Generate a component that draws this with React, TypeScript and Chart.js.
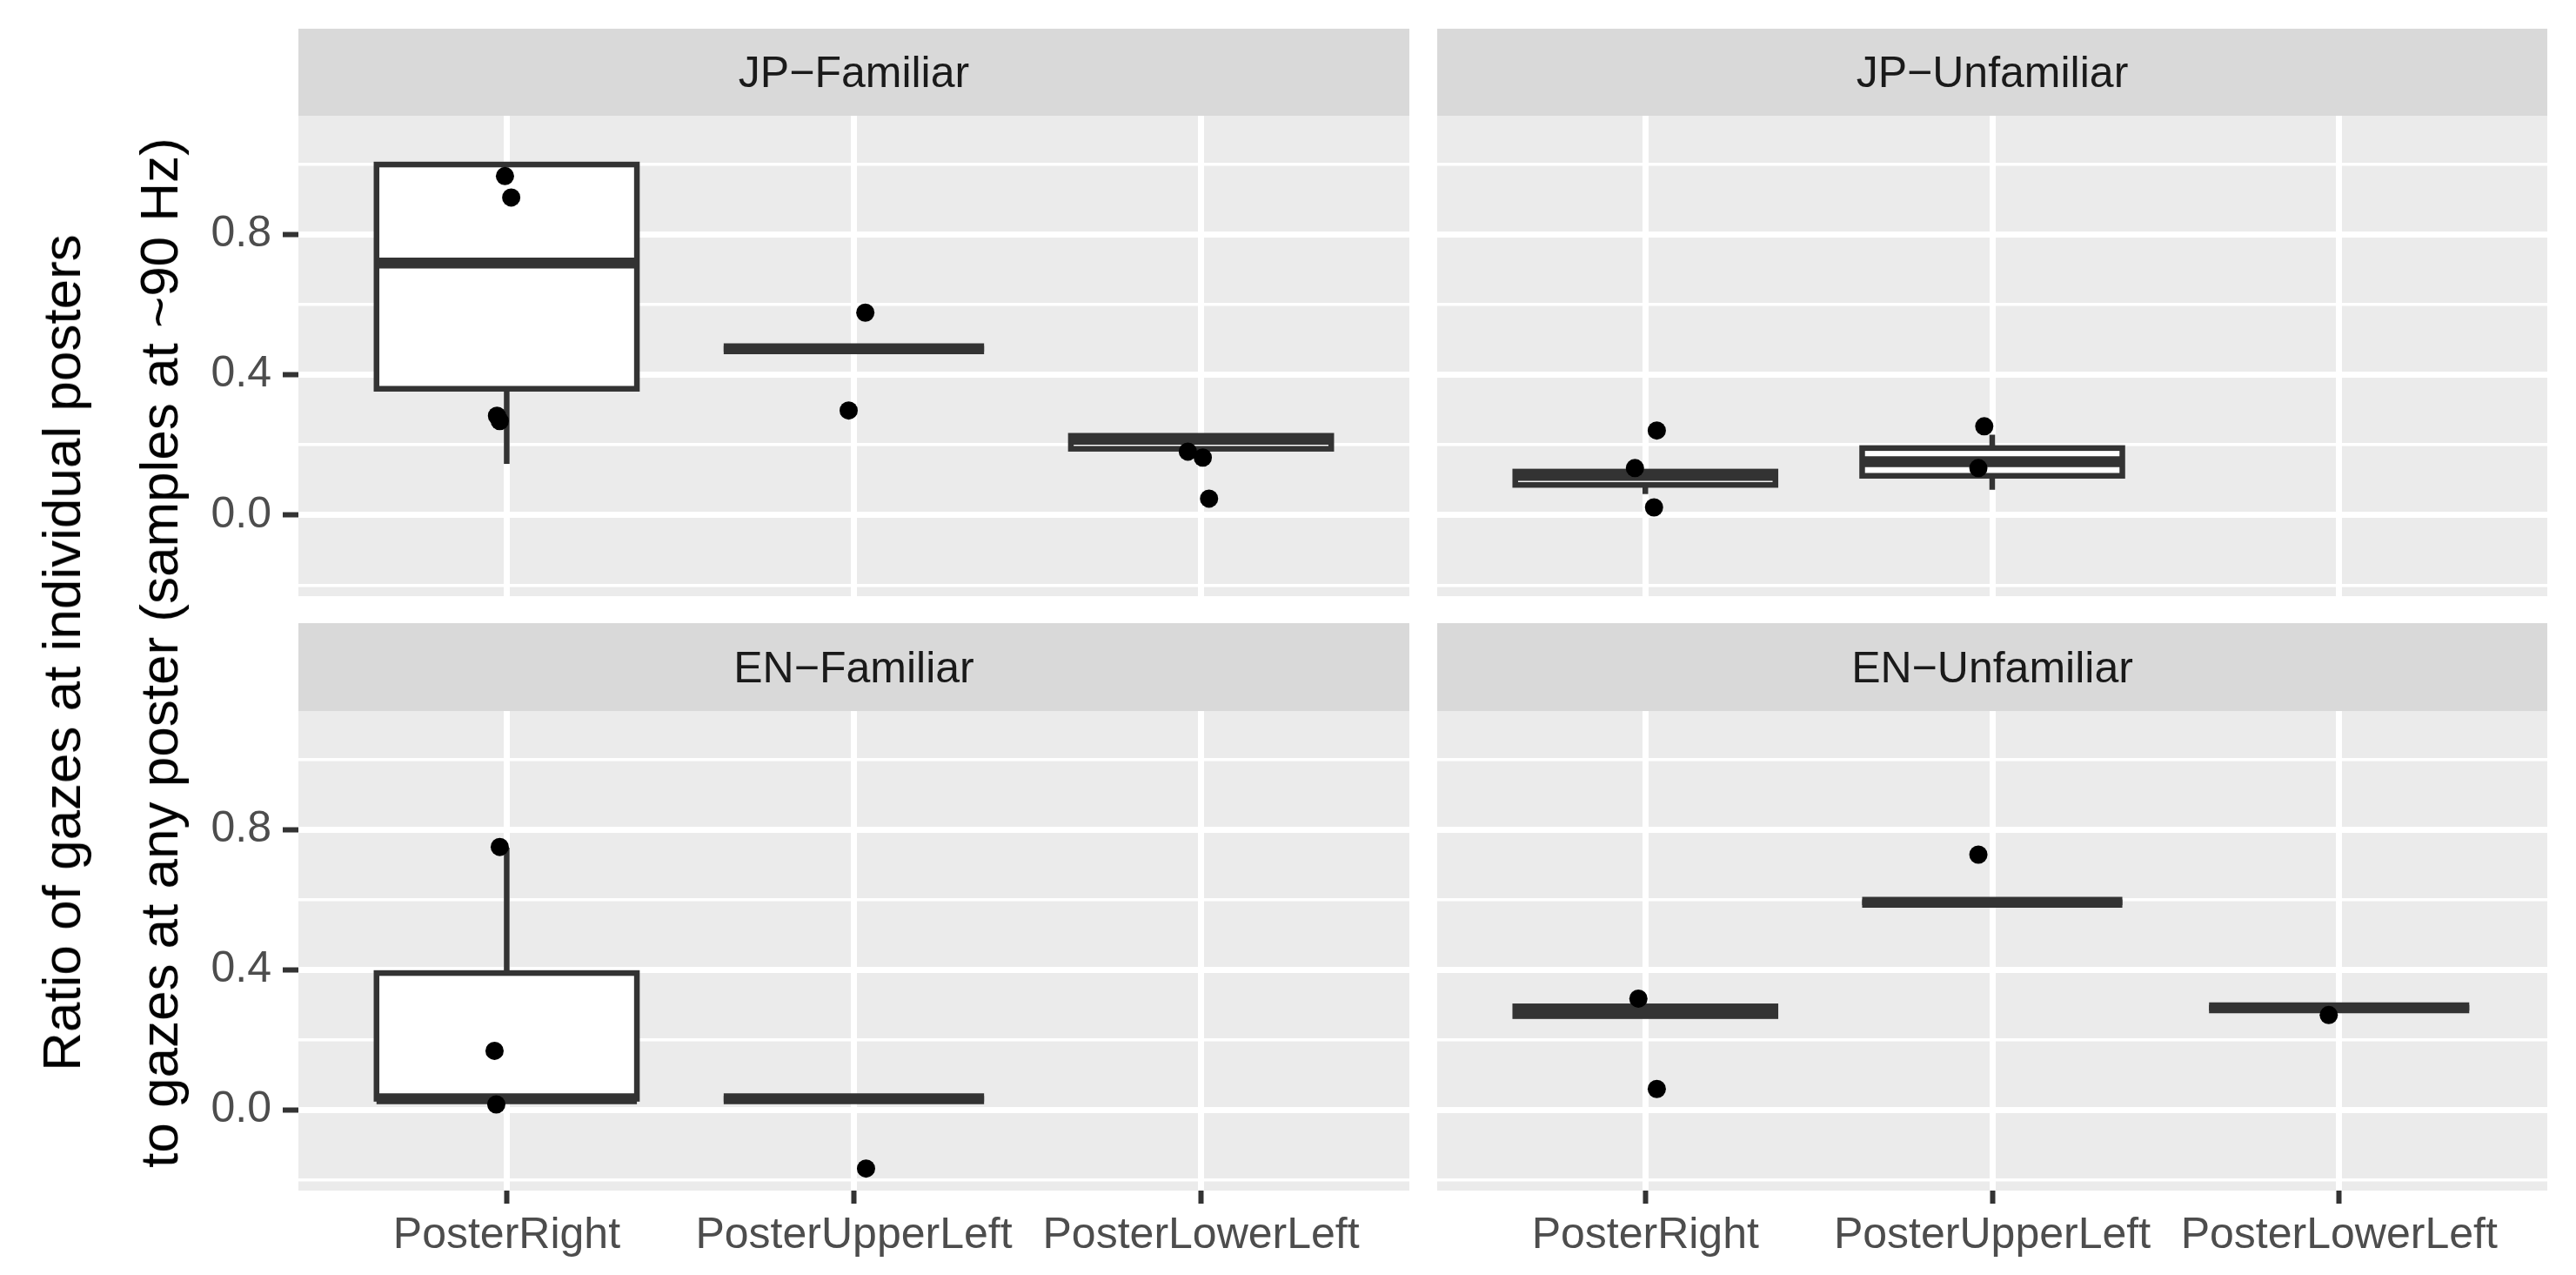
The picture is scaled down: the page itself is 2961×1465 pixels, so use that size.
import React, { useEffect, useRef } from 'react';
import Chart from 'chart.js/auto';

// ---------- data ----------
const categories = ['PosterRight', 'PosterUpperLeft', 'PosterLowerLeft'];
const panelTitles = ['JP\u2212Familiar', 'JP\u2212Unfamiliar', 'EN\u2212Familiar', 'EN\u2212Unfamiliar'];
const yMajorTicks = [0, 0.4, 0.8];
const yMinorTicks = [-0.2, 0.2, 0.6, 1.0];
const xTicks = [0, 1, 2];
const Y_MIN = -0.231;
const Y_MAX = 1.138;
const yTitleLines = ['Ratio of gazes at individual posters', 'to gazes at any poster (samples at ~90 Hz)'];

// box stats per category: [lowerWhisker, q1, median, q3, upperWhisker]
const jpFamiliarBoxes = [
  [0.146, 0.36, 0.718, 0.999, 0.999],
  [0.474, 0.474, 0.474, 0.474, 0.474],
  [0.189, 0.189, 0.216, 0.226, 0.226],
];
const jpUnfamiliarBoxes = [
  [0.06, 0.086, 0.113, 0.124, 0.124],
  [0.072, 0.112, 0.152, 0.191, 0.229],
  null,
];
const enFamiliarBoxes = [
  [0.031, 0.031, 0.031, 0.39, 0.748],
  [0.031, 0.031, 0.031, 0.031, 0.031],
  null,
];
const enUnfamiliarBoxes = [
  [0.267, 0.267, 0.28, 0.295, 0.295],
  [0.592, 0.592, 0.592, 0.592, 0.592],
  [0.291, 0.291, 0.291, 0.291, 0.291],
];

// jittered points: [category index, jitter offset, value]
const jpFamiliarPoints = [
  [0, -0.005, 0.966], [0, 0.013, 0.905], [0, -0.028, 0.283], [0, -0.02, 0.268],
  [1, 0.033, 0.577], [1, -0.015, 0.298],
  [2, -0.038, 0.181], [2, 0.005, 0.164], [2, 0.023, 0.047],
];
const jpUnfamiliarPoints = [
  [0, 0.033, 0.241], [0, -0.03, 0.134], [0, 0.025, 0.022],
  [1, -0.023, 0.253], [1, -0.04, 0.134],
];
const enFamiliarPoints = [
  [0, -0.02, 0.75], [0, -0.035, 0.168], [0, -0.03, 0.015],
  [1, 0.035, -0.168],
];
const enUnfamiliarPoints = [
  [0, -0.02, 0.317], [0, 0.033, 0.059],
  [1, -0.04, 0.728],
  [2, -0.03, 0.27],
];

const BOX_WIDTH = 0.75;
const FONT = "'Liberation Sans', Arial, Helvetica, sans-serif";

// ---------- layout ----------
const LEFT_AXIS_W = 343;
const COLS = [
  { left: 0, width: 1620, axis: true },
  { left: 1652, width: 1276, axis: false },
];
const ROWS = [
  { stripTop: 33, top: 133, height: 552, xAxis: false },
  { stripTop: 716, top: 817, height: 648, xAxis: true },
];
const X_AXIS_H = 97;

function isMajor(v: number) {
  return yMajorTicks.some((m) => Math.abs(m - v) < 1e-6);
}

function zeroPadding(s: any) {
  s.paddingTop = 0;
  s.paddingBottom = 0;
  s.paddingLeft = 0;
  s.paddingRight = 0;
}

function makeBoxPlugin(boxes: (number[] | null)[]) {
  return {
    id: 'boxes',
    beforeDatasetsDraw(chart: any) {
      const { ctx } = chart;
      const xs = chart.scales.x;
      const ys = chart.scales.y;
      ctx.save();
      ctx.strokeStyle = '#333333';
      ctx.lineCap = 'butt';
      ctx.lineJoin = 'miter';
      boxes.forEach((b, i) => {
        if (!b) return;
        const [lo, q1, med, q3, hi] = b;
        const cx = xs.getPixelForValue(i);
        const xl = xs.getPixelForValue(i - BOX_WIDTH / 2);
        const xr = xs.getPixelForValue(i + BOX_WIDTH / 2);
        const yq1 = ys.getPixelForValue(q1);
        const yq3 = ys.getPixelForValue(q3);
        ctx.lineWidth = 6.5;
        ctx.beginPath();
        ctx.moveTo(cx, yq3);
        ctx.lineTo(cx, ys.getPixelForValue(hi));
        ctx.moveTo(cx, yq1);
        ctx.lineTo(cx, ys.getPixelForValue(lo));
        ctx.stroke();
        ctx.fillStyle = '#FFFFFF';
        ctx.fillRect(xl, yq3, xr - xl, yq1 - yq3);
        ctx.strokeRect(xl, yq3, xr - xl, yq1 - yq3);
        ctx.lineWidth = 12.5;
        ctx.beginPath();
        const ym = ys.getPixelForValue(med);
        ctx.moveTo(xl, ym);
        ctx.lineTo(xr, ym);
        ctx.stroke();
      });
      ctx.restore();
    },
  };
}

const bgPlugin = {
  id: 'panelBg',
  beforeDraw(chart: any) {
    const { ctx, chartArea } = chart;
    ctx.save();
    ctx.fillStyle = '#EBEBEB';
    ctx.fillRect(chartArea.left, chartArea.top, chartArea.right - chartArea.left, chartArea.bottom - chartArea.top);
    ctx.restore();
  },
};

function Panel({ boxes, points, col, row }: any) {
  const ref = useRef<HTMLCanvasElement>(null);
  useEffect(() => {
    if (!ref.current) return;
    const yTicks = [...yMajorTicks, ...yMinorTicks].sort((a, b) => a - b);
    const chart = new Chart(ref.current, {
      type: 'scatter',
      data: {
        datasets: [
          {
            data: points.map((p: number[]) => ({ x: p[0] + p[1], y: p[2] })),
            pointRadius: 10.5,
            pointHoverRadius: 10.5,
            backgroundColor: '#000000',
            borderWidth: 0,
            clip: false,
          },
        ],
      },
      options: {
        animation: false,
        responsive: false,
        maintainAspectRatio: false,
        devicePixelRatio: 1,
        events: [],
        layout: { padding: 0, autoPadding: false },
        plugins: { legend: { display: false }, tooltip: { enabled: false }, title: { display: false } },
        scales: {
          x: {
            type: 'linear',
            min: -0.6,
            max: 2.6,
            afterBuildTicks: (s: any) => {
              s.ticks = xTicks.map((v) => ({ value: v }));
            },
            afterFit: (s: any) => {
              s.height = row.xAxis ? X_AXIS_H : 0;
              zeroPadding(s);
            },
            border: { display: false },
            grid: {
              color: '#FFFFFF',
              lineWidth: 7,
              drawTicks: row.xAxis,
              tickLength: 15,
              tickWidth: 6,
              tickColor: '#333333',
            },
            ticks: {
              display: row.xAxis,
              autoSkip: false,
              maxRotation: 0,
              minRotation: 0,
              padding: 7,
              color: '#4D4D4D',
              font: { family: FONT, size: 50 },
              callback: (v: any) => categories[Math.round(Number(v))] ?? '',
            },
          },
          y: {
            type: 'linear',
            min: Y_MIN,
            max: Y_MAX,
            afterBuildTicks: (s: any) => {
              s.ticks = yTicks.map((v) => ({ value: v }));
            },
            afterFit: (s: any) => {
              s.width = col.axis ? LEFT_AXIS_W : 0;
              zeroPadding(s);
            },
            border: { display: false },
            grid: {
              color: '#FFFFFF',
              lineWidth: (c: any) => (c.tick && isMajor(c.tick.value) ? 7 : 3.5),
              drawTicks: col.axis,
              tickLength: 18,
              tickWidth: 6,
              tickColor: (c: any) => (c.tick && isMajor(c.tick.value) ? '#333333' : 'rgba(0,0,0,0)'),
            },
            ticks: {
              display: col.axis,
              autoSkip: false,
              padding: 13,
              color: '#4D4D4D',
              font: { family: FONT, size: 50 },
              callback: (v: any) => (isMajor(Number(v)) ? Number(v).toFixed(1) : ''),
            },
          },
        },
      } as any,
      plugins: [bgPlugin, makeBoxPlugin(boxes)],
    });
    return () => chart.destroy();
  }, []);
  return (
    <canvas
      ref={ref}
      width={col.width}
      height={row.height}
      style={{ position: 'absolute', left: col.left, top: row.top, width: col.width, height: row.height }}
    />
  );
}

function Strip({ title, col, row }: any) {
  const left = col.axis ? col.left + LEFT_AXIS_W : col.left;
  const width = col.axis ? col.width - LEFT_AXIS_W : col.width;
  return (
    <div
      style={{
        position: 'absolute',
        left,
        top: row.stripTop,
        width,
        height: row.top - row.stripTop,
        background: '#D9D9D9',
        display: 'flex',
        alignItems: 'center',
        justifyContent: 'center',
        fontFamily: FONT,
        fontSize: 50,
        lineHeight: 1,
        color: '#1A1A1A',
        whiteSpace: 'nowrap',
      }}
    >
      {title}
    </div>
  );
}

export default function App() {
  const panelBoxes = [jpFamiliarBoxes, jpUnfamiliarBoxes, enFamiliarBoxes, enUnfamiliarBoxes];
  const panelPoints = [jpFamiliarPoints, jpUnfamiliarPoints, enFamiliarPoints, enUnfamiliarPoints];
  const titleCenters = [70.5, 182.5];
  return (
    <div style={{ position: 'fixed', left: 0, top: 0, width: 2961, height: 1465, background: '#FFFFFF', overflow: 'hidden' }}>
      {panelTitles.map((t, i) => {
        const col = COLS[i % 2];
        const row = ROWS[Math.floor(i / 2)];
        return (
          <React.Fragment key={t}>
            <Panel boxes={panelBoxes[i]} points={panelPoints[i]} col={col} row={row} />
            <Strip title={t} col={col} row={row} />
          </React.Fragment>
        );
      })}
      {yTitleLines.map((line, i) => (
        <div
          key={i}
          style={{
            position: 'absolute',
            left: titleCenters[i],
            top: 750,
            transform: 'translate(-50%, -50%) rotate(-90deg)',
            fontFamily: FONT,
            fontSize: 62,
            lineHeight: 1,
            color: '#000000',
            whiteSpace: 'nowrap',
          }}
        >
          {line}
        </div>
      ))}
    </div>
  );
}
